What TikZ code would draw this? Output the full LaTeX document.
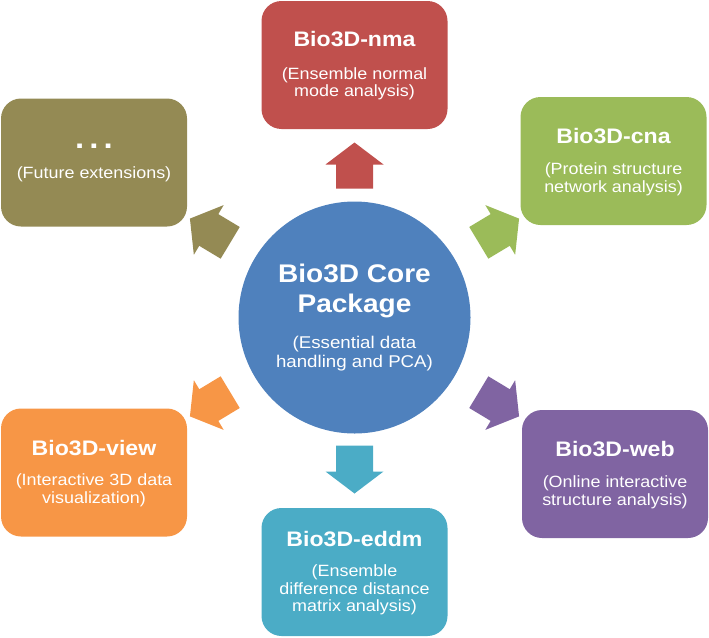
\documentclass[tikz,border=0pt]{standalone}
\usepackage{fontspec}
\setmainfont{Liberation Sans}[FakeStretch=1.1]
\usetikzlibrary{calc}
\definecolor{cRed}{HTML}{C0504D}
\definecolor{cGreen}{HTML}{9BBB59}
\definecolor{cOlive}{HTML}{948A54}
\definecolor{cOrange}{HTML}{F79646}
\definecolor{cPurple}{HTML}{8064A2}
\definecolor{cTeal}{HTML}{4BACC6}
\definecolor{cBlue}{HTML}{4F81BD}
\newcommand\boxttl[1]{{\fontsize{21}{21}\selectfont\bfseries\rule{0pt}{17pt}#1}}
\newcommand\corettl[1]{{\fontsize{25.5}{25.5}\selectfont\bfseries #1}}
\tikzset{
  modbox/.style={rounded corners=20pt, minimum width=186pt, minimum height=128pt,
    text=white, align=center, inner sep=0pt,
    font=\fontsize{16.3}{17.5}\selectfont},
  corenode/.style={circle, fill=cBlue, minimum size=232pt, inner sep=0pt,
    text=white, align=center,
    font=\fontsize{17}{17.5}\selectfont},
}
\begin{document}
\lineskiplimit=-50pt\relax
\begin{tikzpicture}[x=1pt,y=-1pt]
\useasboundingbox (0,0) rectangle (709,637);
\node[corenode] (core) at (354.5,317.5)
  {\corettl{Bio3D Core}\\[12.5pt]\corettl{Package}\\[18pt](Essential data\\[1.5pt]handling and PCA)};
\node[modbox, fill=cRed] (nma) at (354.5,65)
  {\boxttl{Bio3D-nma}\\[15pt](Ensemble normal\\mode analysis)};
\node[modbox, fill=cGreen] (cna) at (613.5,161)
  {\boxttl{Bio3D-cna}\\[14pt](Protein structure\\network analysis)};
\node[modbox, fill=cOlive] (fut) at (94,162.5)
  {{\fontsize{30}{30}\selectfont\bfseries .\kern5pt.\kern5pt.}\\[12.5pt](Future extensions)};
\node[modbox, fill=cOrange] (view) at (94,472.5)
  {\boxttl{Bio3D-view}\\[13pt](Interactive 3D data\\visualization)};
\node[modbox, fill=cPurple] (web) at (615,474)
  {\boxttl{Bio3D-web}\\[13.5pt](Online interactive\\structure analysis)};
\node[modbox, fill=cTeal] (eddm) at (354.5,572)
  {\boxttl{Bio3D-eddm}\\[13pt](Ensemble\\difference distance\\matrix analysis)};
\foreach \a/\c/\ra/\rb in {90/cRed/129/175, 31/cGreen/145/192, -31/cPurple/145/192,
    -90/cTeal/128/176, -149/cOrange/145/192, 149/cOlive/145/192}{
  \begin{scope}[shift={(core.center)}, rotate=\a]
    \fill[\c] (\ra,18.5) -- (\rb-22,18.5) -- (\rb-22,29) -- (\rb,0)
      -- (\rb-22,-29) -- (\rb-22,-18.5) -- (\ra,-18.5) -- cycle;
  \end{scope}
}
\end{tikzpicture}
\end{document}
